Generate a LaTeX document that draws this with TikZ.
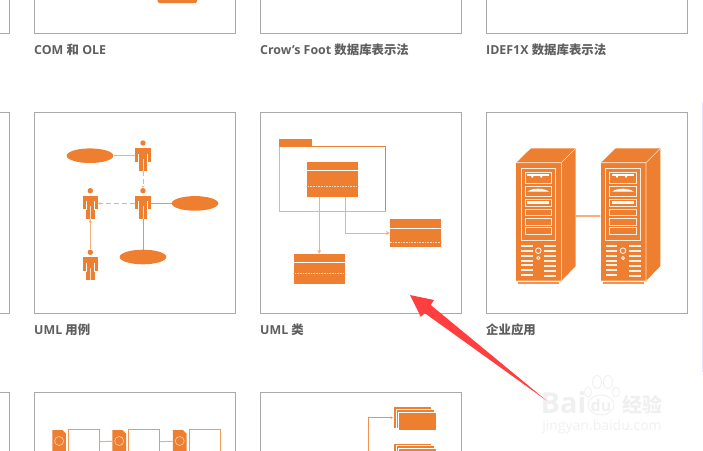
\documentclass[tikz,border=0pt]{standalone}
\usepackage{fontspec}
\setmainfont{Open Sans}
\newfontfamily\cjk{Noto Sans CJK SC}
\usepackage{tikz}
\usetikzlibrary{arrows.meta, positioning, shapes.geometric}
\definecolor{iconorange}{HTML}{EF7F30}
\definecolor{iconlight}{HTML}{F5AE80}
\definecolor{cardgray}{HTML}{A9A9A9}
\definecolor{labelgray}{HTML}{5F5F5F}
\definecolor{markred}{HTML}{FF3F3F}
\definecolor{markgray}{HTML}{F0F0F0}

\tikzset{
    card/.style={draw=cardgray, line width=0.9pt, fill=white},
    cardlabel/.style={anchor=west, inner sep=0pt, text=labelgray, font=\bfseries\fontsize{12.4}{14}\selectfont},
    actorbox/.style={minimum width=15.3pt, minimum height=30.7pt, inner sep=0pt},
    usecase/.style={ellipse, fill=iconorange, minimum width=46.6pt, minimum height=14.6pt, inner sep=0pt},
    classbox/.style={fill=iconorange, inner sep=0pt},
    classsep/.style={draw=white, line width=0.8pt},
    classdots/.style={draw=white!70!iconorange, line width=0.8pt, dash pattern=on 1pt off 0.6pt},
    serverbox/.style={minimum width=59.4pt, minimum height=135.4pt, inner sep=0pt},
    wire/.style={draw=iconlight, line width=1pt},
    wirehard/.style={draw=iconorange!85!white, line width=0.8pt},
    longdash/.style={dash pattern=on 5pt off 3pt},
    docbox/.style={draw=iconorange!80!white, fill=white, line width=0.9pt, minimum width=31pt, minimum height=26pt, inner sep=0pt},
    stackbox/.style={fill=iconorange, draw=white, line width=0.5pt, minimum width=38.4pt, inner sep=0pt},
    actor/.pic={
        \fill[iconorange] (0,-12.7) circle (2.7);
        \fill[iconorange] (-7.6,-7.7) rectangle (7.6,6);
        \fill[iconorange] (-4.4,6) rectangle (4.4,15.3);
        \draw[white, line width=0.5pt] (-4.4,-2) -- (-4.4,6.5) (4.4,-2) -- (4.4,6.5);
        \draw[white!75!iconorange, line width=0.9pt] (0,3) -- (0,15.3);
    },
    server/.pic={
        \fill[iconorange] (0,0) -- (14.7,-14.4) -- (59.4,-14.4) -- (45,0) -- cycle;
        \fill[iconorange] (45,0) -- (59.4,-14.4) -- (59.4,103.3) -- (45,118.3) -- cycle;
        \fill[iconorange] (0,0) rectangle (45,118.3);
        \fill[iconorange!85!white] (2,119) rectangle (42.7,121);
        \draw[white!75!iconorange, line width=0.6pt] (0,0) -- (45,0) -- (45,118.3) -- (0,118.3) (45,0) -- (59.4,-14.4);
        \draw[white!85!iconorange, line width=0.7pt] (4.7,5.7) rectangle (39.3,78);
        \foreach \ya/\yb in {9.7/20.3, 23.3/34, 36.3/43.3, 46.3/53, 56/62.3, 65/72}
            \draw[white!85!iconorange, line width=0.7pt] (8.7,\ya) rectangle (35,\yb);
        \fill[white] (10.5,11.5) rectangle (33,13.5);
        \fill[white] (16,14) circle (1.2) (25,14) circle (1.2);
        \fill[white] (11,29) .. controls (16,25) and (27,25) .. (33,29) -- cycle;
        \fill[white] (11,38.5) rectangle (33,41);
        \foreach \yy in {83.3,88.3,93.3,98,102.7,107.7,112.7}
            \fill[white!90!iconorange] (4.7,\yy-1) rectangle (16.3,\yy+1);
        \foreach \yy in {83.6,88.6,93.6,98.6,103.6,108.6,113.3}
            \fill[white!90!iconorange] (28,\yy-1) rectangle (39.7,\yy+1);
        \draw[white!90!iconorange, line width=0.9pt] (22,88) circle (2.8) (22,95.3) circle (1.6);
    },
    paper/.pic={
        \fill[iconorange] (0,0) -- (10,0) -- (13.6,3.6) -- (13.6,22) -- (0,22) -- cycle;
        \draw[white!65!iconorange, line width=0.6pt] (6.8,11) circle (4.5);
    },
}

\begin{document}
\begin{tikzpicture}[x=1pt, y=-1pt]
    \useasboundingbox (0,0) rectangle (703,450);
    \clip (0,0) rectangle (703,450);

    % cards
    \foreach \xa/\xb in {-5/9.5, 34.5/235.5, 260.5/461.5, 486.5/687.5} {
        \draw[card] (\xa,-5) rectangle (\xb,33.5);
        \draw[card] (\xa,112.5) rectangle (\xb,313);
    }
    \foreach \xa/\xb in {-5/9.5, 34.5/235.5, 260.5/461.5}
        \draw[card] (\xa,392.7) rectangle (\xb,460);
    \draw[draw=blue!10!white, line width=1pt] (702.3,102) -- (702.3,372);
    \fill[iconorange, rounded corners=1.5pt] (157.5,-3) rectangle (197,3);

    % labels
    \node[cardlabel] (labelcom) at (34,50) {COM {\cjk 和} OLE};
    \node[cardlabel] (labelcrow) at (260,50) {Crow's Foot {\cjk 数据库表示法}};
    \node[cardlabel] (labelidef) at (486,50) {IDEF1X {\cjk 数据库表示法}};
    \node[cardlabel] (labelcase) at (34,329.5) {UML {\cjk 用例}};
    \node[cardlabel] (labelclass) at (260,329.5) {UML {\cjk 类}};
    \node[cardlabel] (labelapp) at (486,329.5) {{\cjk 企业应用}};

    % use case icon
    \foreach \name/\x/\y in {actorA/143/155.7, actorB/143/203.4, actorC/90.3/203.4, actorD/90.3/265} {
        \node[actorbox] (\name) at (\x,\y) {};
        \pic at (\name) {actor};
    }
    \node[usecase] (caseA) at (90,155.7) {};
    \node[usecase] (caseB) at (195,203.4) {};
    \node[usecase] (caseC) at (143,257) {};
    \draw[wire] (caseA) -- (actorA);
    \draw[wirehard] (actorB) -- (caseB);
    \draw[wirehard] (actorB) -- (caseC);
    \draw[wire, longdash, -{Stealth[open, length=2.5pt, width=3pt]}] (actorA) -- (actorB);
    \draw[wire, longdash, -{Stealth[open, length=2.5pt, width=3pt]}] (actorB) -- (actorC);
    \draw[wire, -{Triangle[open, length=3.5pt, width=3pt]}] (actorD) -- (actorC);

    % class icon
    \node[classbox, minimum width=32.4pt, minimum height=7.4pt] (pkgtab) at (295.5,143) {};
    \draw[iconorange, line width=0.9pt] (279.7,146.5) -- (385.7,146.5) -- (385.7,211.7);
    \draw[iconlight, line width=1.3pt] (279.7,146.5) -- (279.7,211.7) -- (385.7,211.7);
    \node[classbox, minimum width=51.3pt, minimum height=35.3pt] (classA) at (332.3,179.3) {};
    \node[classbox, minimum width=51pt, minimum height=27.4pt] (classB) at (415.5,233) {};
    \node[classbox, minimum width=51.3pt, minimum height=30.3pt] (classC) at (319.3,269.2) {};
    \draw[classsep] (classA.west |- 0,170.3) -- (classA.east |- 0,170.3);
    \draw[classdots] (classA.west |- 0,186.3) -- (classA.east |- 0,186.3);
    \draw[classsep] (classB.west |- 0,228) -- (classB.east |- 0,228);
    \draw[classdots] (classB.west |- 0,242) -- (classB.east |- 0,242);
    \draw[classsep] (classC.west |- 0,262.7) -- (classC.east |- 0,262.7);
    \draw[classdots] (classC.west |- 0,273.7) -- (classC.east |- 0,273.7);
    \draw[wire, -{Stealth[length=4pt, width=4pt]}] (classC.north |- classA.south) -- (classC.north);
    \draw[wire, -{Stealth[length=4pt, width=4pt]}] (345.3,197) |- (classB.west);

    % server icon
    \node[serverbox] (serverA) at (546,216) {};
    \node[serverbox] (serverB) at (630.7,216) {};
    \pic at (516.3,162.7) {server};
    \pic at (601,162.7) {server};
    \draw[wire, line width=1.3pt, -{Stealth[length=2.5pt, width=3pt]}] (serverA) -- (serverB);

    % bottom row, document flow
    \node[docbox] (flowA) at (83.5,442.3) {};
    \node[docbox] (flowB) at (144.2,442.3) {};
    \node[docbox] (flowC) at (204.5,442.3) {};
    \node[inner sep=0pt, minimum width=13.6pt, minimum height=22pt] (paperB) at (119.2,441) {};
    \node[inner sep=0pt, minimum width=13.6pt, minimum height=22pt] (paperC) at (179.7,441) {};
    \pic at (52.3,430) {paper};
    \pic at (112.4,430) {paper};
    \pic at (172.9,430) {paper};
    \draw[wire] (flowA) -- (paperB);
    \draw[wire] (flowB) -- (paperC);

    % bottom row, stacks
    \coordinate (trunk) at (368.3,452);
    \node[stackbox, minimum height=22pt] (stackA) at (412.5,417.7) {};
    \node[stackbox, minimum height=18.7pt] at (415,419) {};
    \node[stackbox, minimum height=18.7pt] at (417.5,421.3) {};
    \node[stackbox, minimum height=18.7pt] (stackB) at (412.5,452.6) {};
    \node[stackbox, minimum height=18.7pt] at (415,454.8) {};
    \node[stackbox, minimum height=18.7pt] at (417.5,457.3) {};
    \draw[wirehard, -{Stealth[length=2.5pt, width=2.5pt]}] (trunk) |- (stackA.west);

    % watermark
    \begin{scope}[markgray]
        \node[inner sep=0pt, font=\bfseries\fontsize{29}{29}\selectfont] (markbai) at (563.5,403) {Bai};
        \node[inner sep=0pt, font=\bfseries\fontsize{16}{16}\selectfont] (markdu) at (601,405) {du};
        \node[inner sep=0pt, font=\bfseries\fontsize{20}{20}\selectfont\cjk] (markjy) at (642,405) {经验};
        \node[inner sep=0pt, font=\fontsize{14}{14}\selectfont] (markurl) at (602,427) {jingyan.baidu.com};
        \draw[line width=0.9pt] (601,405) ellipse (13 and 10);
        \draw[line width=0.9pt] (588,392) ellipse (3.5 and 5) (597,382) ellipse (4.5 and 6.5)
            (608,382) ellipse (4.5 and 6.5) (616,392) ellipse (3.5 and 5);
    \end{scope}

    % red marker
    \fill[markred] (410,295) -- (434,300) -- (430.7,305) -- (546.7,400.7) -- (425,313.3) -- (420.7,316.7) -- cycle;
\end{tikzpicture}
\end{document}
